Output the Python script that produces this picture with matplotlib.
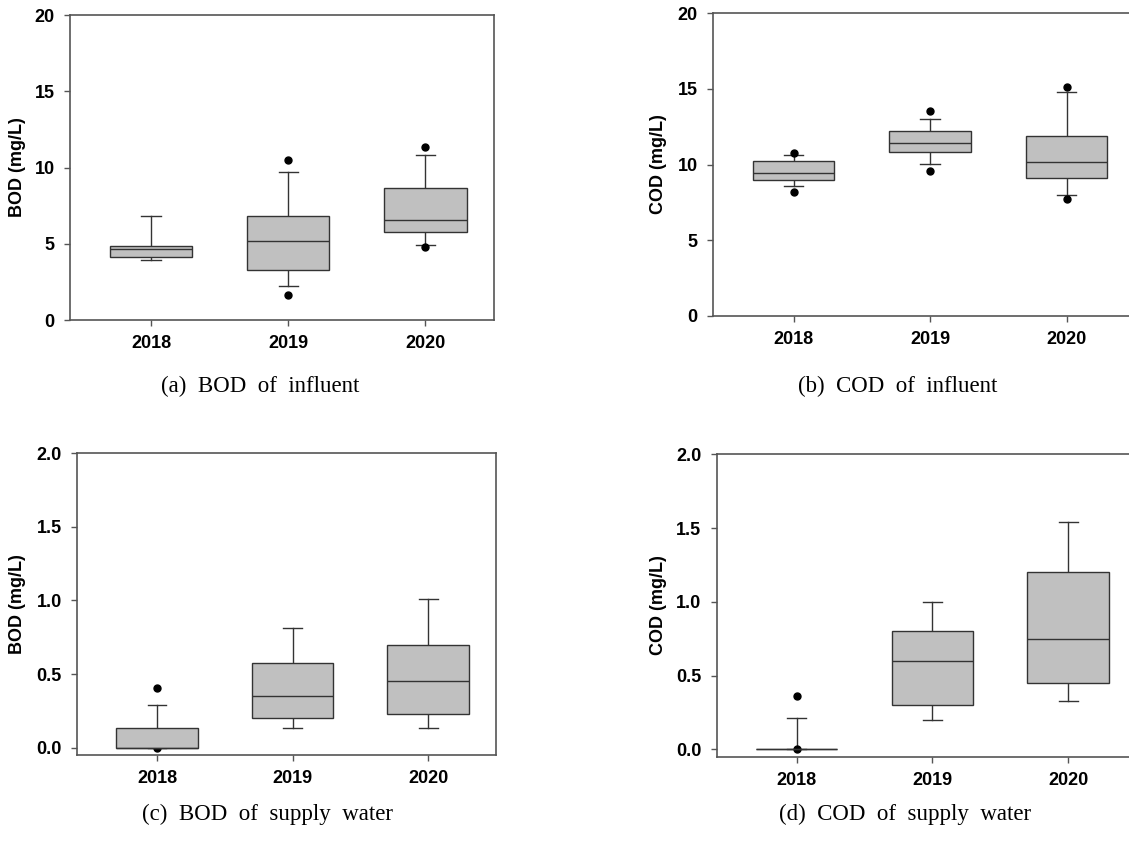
import matplotlib
matplotlib.use("Agg")
import matplotlib.pyplot as plt
from matplotlib.transforms import blended_transform_factory

#DATOS

years = ["2018", "2019", "2020"]

#(a) BOD del afluente
bod_inf_whislo = [3.93, 2.23, 4.92]
bod_inf_q1 = [4.13, 3.28, 5.77]
bod_inf_med = [4.63, 5.16, 6.58]
bod_inf_q3 = [4.85, 6.80, 8.68]
bod_inf_whishi = [6.84, 9.70, 10.82]
bod_inf_fliers = [[], [10.49, 1.66], [11.34, 4.81]]

#(b) COD del afluente
cod_inf_whislo = [8.56, 10.01, 7.98]
cod_inf_q1 = [8.95, 10.80, 9.08]
cod_inf_med = [9.42, 11.40, 10.17]
cod_inf_q3 = [10.21, 12.19, 11.91]
cod_inf_whishi = [10.65, 12.99, 14.77]
cod_inf_fliers = [[10.76, 8.16], [13.54, 9.57], [15.10, 7.72]]

#(c) BOD del agua suministrada
bod_sup_whislo = [0.0, 0.131, 0.131]
bod_sup_q1 = [0.0, 0.202, 0.226]
bod_sup_med = [0.0, 0.351, 0.451]
bod_sup_q3 = [0.134, 0.573, 0.700]
bod_sup_whishi = [0.288, 0.811, 1.008]
bod_sup_fliers = [[0.408, 0.0], [], []]

#(d) COD del agua suministrada
cod_sup_whislo = [0.0, 0.20, 0.33]
cod_sup_q1 = [0.0, 0.30, 0.45]
cod_sup_med = [0.0, 0.60, 0.75]
cod_sup_q3 = [0.0, 0.80, 1.20]
cod_sup_whishi = [0.21, 1.00, 1.54]
cod_sup_fliers = [[0.36, 0.0], [], []]

captions = [
    "(a)  BOD  of  influent",
    "(b)  COD  of  influent",
    "(c)  BOD  of  supply  water",
    "(d)  COD  of  supply  water",
]

#ESTILO
BOX_COLOR = "#c0c0c0"
EDGE_COLOR = "#333333"
SPINE_COLOR = "#555555"
TICK_FONT = "Liberation Sans"
CAPTION_FONT = "Liberation Serif"
W, H = 1129, 846


def make_stats(whislo, q1, med, q3, whishi, fliers):
    stats = []
    for i in range(len(years)):
        stats.append({
            "label": years[i],
            "whislo": whislo[i],
            "q1": q1[i],
            "med": med[i],
            "q3": q3[i],
            "whishi": whishi[i],
            "fliers": fliers[i],
        })
    return stats


def draw_panel(ax, stats, ylabel, ylim, yticks, ytick_fmt, label_x):
    ax.bxp(
        stats,
        positions=[1, 2, 3],
        widths=0.6,
        capwidths=0.14,
        patch_artist=True,
        showfliers=True,
        boxprops=dict(facecolor=BOX_COLOR, edgecolor=EDGE_COLOR, linewidth=1.0, zorder=2),
        medianprops=dict(color=EDGE_COLOR, linewidth=1.0, zorder=2.1),
        whiskerprops=dict(color=EDGE_COLOR, linewidth=1.0, zorder=1.8),
        capprops=dict(color=EDGE_COLOR, linewidth=1.0, zorder=1.8),
        flierprops=dict(marker="o", markerfacecolor="black", markeredgecolor="black",
                        markersize=5, linestyle="none", zorder=1.9),
    )
    ax.set_xlim(0.41, 3.5)
    ax.set_ylim(*ylim)
    ax.set_yticks(yticks)
    ax.set_yticklabels([ytick_fmt.format(v) for v in yticks])
    ax.set_xticks([1, 2, 3])
    ax.set_xticklabels(years)

    for spine in ax.spines.values():
        spine.set_color(SPINE_COLOR)
        spine.set_linewidth(1.2)

    ax.tick_params(axis="both", direction="out", length=4, width=1.0, color=SPINE_COLOR,
                   labelsize=13, pad=7)
    for lab in ax.get_xticklabels() + ax.get_yticklabels():
        lab.set_fontfamily(TICK_FONT)
        lab.set_fontweight("bold")

    #etiqueta del eje y fijada en pixeles de la figura (borde derecho del texto)
    ax.set_ylabel(ylabel, fontsize=13, fontweight="bold", fontfamily=TICK_FONT)
    ax.yaxis.set_label_coords(label_x / W, 0.5,
                              transform=blended_transform_factory(fig.transFigure, ax.transAxes))


fig = plt.figure(figsize=(W / 100, H / 100), dpi=100)

#posiciones de los ejes (en fracciones de la figura)
ax_a = fig.add_axes([0.0620, 0.6217, 0.3756, 0.3605])
ax_b = fig.add_axes([0.6315, 0.6268, 0.3736, 0.3575])
ax_c = fig.add_axes([0.0682, 0.1076, 0.3711, 0.3566])
ax_d = fig.add_axes([0.6348, 0.1056, 0.3714, 0.3574])

draw_panel(ax_a, make_stats(bod_inf_whislo, bod_inf_q1, bod_inf_med, bod_inf_q3,
                            bod_inf_whishi, bod_inf_fliers),
           "BOD (mg/L)", (0, 20), [0, 5, 10, 15, 20], "{:.0f}", 26)
draw_panel(ax_b, make_stats(cod_inf_whislo, cod_inf_q1, cod_inf_med, cod_inf_q3,
                            cod_inf_whishi, cod_inf_fliers),
           "COD (mg/L)", (0, 20), [0, 5, 10, 15, 20], "{:.0f}", 667)
draw_panel(ax_c, make_stats(bod_sup_whislo, bod_sup_q1, bod_sup_med, bod_sup_q3,
                            bod_sup_whishi, bod_sup_fliers),
           "BOD (mg/L)", (-0.05, 2.0), [0.0, 0.5, 1.0, 1.5, 2.0], "{:.1f}", 26)
draw_panel(ax_d, make_stats(cod_sup_whislo, cod_sup_q1, cod_sup_med, cod_sup_q3,
                            cod_sup_whishi, cod_sup_fliers),
           "COD (mg/L)", (-0.05, 2.0), [0.0, 0.5, 1.0, 1.5, 2.0], "{:.1f}", 667)

#pies de figura
caption_pos = [(260, 386), (898, 386), (268, 814), (905, 814)]
for text, (xp, yp) in zip(captions, caption_pos):
    fig.text(xp / W, 1 - yp / H, text, ha="center", va="center",
             fontsize=16.5, fontfamily=CAPTION_FONT)

fig.savefig("out.png", dpi=100)
